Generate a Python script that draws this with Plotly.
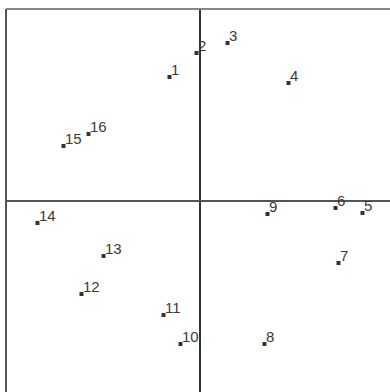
import plotly.graph_objects as go

# Observation scores on the first two components
labels = ["1", "2", "3", "4", "5", "6", "7", "8",
          "9", "10", "11", "12", "13", "14", "15", "16"]
comp1 = [-0.30, -0.03, 0.28, 0.89, 1.63, 1.36, 1.39, 0.65,
         0.68, -0.19, -0.36, -1.18, -0.96, -1.62, -1.36, -1.11]
comp2 = [1.24, 1.48, 1.58, 1.18, -0.12, -0.07, -0.62, -1.43,
         -0.13, -1.43, -1.14, -0.93, -0.55, -0.22, 0.55, 0.67]

fig = go.Figure(
    go.Scatter(
        x=comp1, y=comp2,
        mode="markers",
        marker=dict(symbol="square", size=4, color="#333333"),
        cliponaxis=False,
        hoverinfo="skip",
    )
)

# point labels sit just right of and above each marker
for lab, xv, yv in zip(labels, comp1, comp2):
    fig.add_annotation(
        x=xv, y=yv, text=lab, showarrow=False,
        xanchor="left", yanchor="bottom", xshift=-1, yshift=-3,
        font=dict(family="Arial", size=15, color="#3a3a3a"),
    )

fig.update_xaxes(
    range=[-1.935, 1.905], showgrid=False, showticklabels=False, ticks="",
    zeroline=True, zerolinecolor="#333333", zerolinewidth=2,
)
fig.update_yaxes(
    range=[-1.91, 1.92], showgrid=False, showticklabels=False, ticks="",
    zeroline=True, zerolinecolor="#555555", zerolinewidth=2,
)

# frame on the top and left edges only
fig.add_shape(type="line", xref="paper", yref="paper", x0=0, x1=1, y0=1, y1=1,
              line=dict(color="#888888", width=2))
fig.add_shape(type="line", xref="paper", yref="paper", x0=0, x1=0, y0=0, y1=1,
              line=dict(color="#555555", width=2))

fig.update_layout(
    width=390, height=392,
    margin=dict(l=6, r=0, t=9, b=0),
    paper_bgcolor="white", plot_bgcolor="white",
    showlegend=False,
)

fig.write_html("out.html")
